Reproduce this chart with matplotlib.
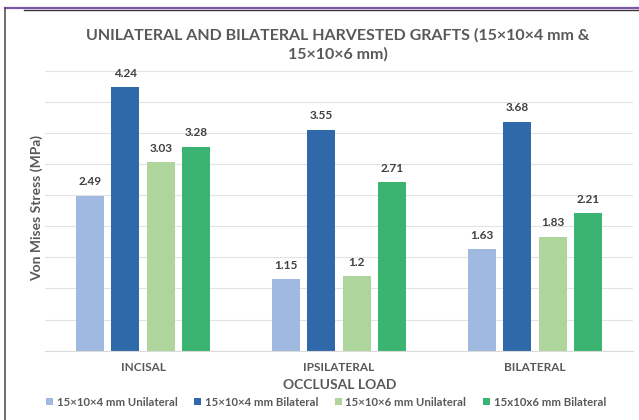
import numpy as np
import matplotlib.pyplot as plt
from matplotlib.lines import Line2D

plt.rcParams['font.family'] = ['Lato', 'DejaVu Sans']

loads = ['INCISAL', 'IPSILATERAL', 'BILATERAL']
series = ['15×10×4 mm Unilateral', '15×10×4 mm Bilateral',
          '15×10×6 mm Unilateral', '15x10x6 mm Bilateral']
uni_4 = [2.49, 1.15, 1.63]
bi_4 = [4.24, 3.55, 3.68]
uni_6 = [3.03, 1.2, 1.83]
bi_6 = [3.28, 2.71, 2.21]
colors = ['#A0B9E0', '#2F69AA', '#AED69C', '#3BB471']

fig = plt.figure(figsize=(6.39, 4.20), dpi=100)
ax = fig.add_axes([45/639, 1-350.7/420, 588/639, 280/420])

x = np.arange(len(loads))
w = 0.143
step = 0.181
for i, (vals, c, lab) in enumerate(zip([uni_4, bi_4, uni_6, bi_6], colors, series)):
    pos = x + (i - 1.5) * step
    bars = ax.bar(pos, vals, width=w, color=c, label=lab, zorder=2)
    ax.bar_label(bars, labels=[f'{v:g}' for v in vals], padding=6,
                 fontsize=8.5, fontweight='bold', color='#404040')

ax.set_xlim(-0.5, 2.5)
ax.set_ylim(0, 4.5)
ax.set_yticks(np.arange(0, 4.51, 0.5))
ax.yaxis.grid(True, color='#E3E3E3', linewidth=0.8, zorder=0)
ax.tick_params(axis='y', length=0, labelleft=False)
ax.tick_params(axis='x', length=0, pad=8)
ax.set_xticks(x)
ax.set_xticklabels(loads, fontsize=8.5, fontweight='bold', color='#595959')
for s in ['top', 'right', 'left']:
    ax.spines[s].set_visible(False)
ax.spines['bottom'].set_color('#D9D9D9')

fig.text(37/639, 1-208/420, 'Von Mises Stress (MPa)', rotation=90,
         ha='center', va='center', fontsize=10, fontweight='bold', color='#595959')
fig.text(340/639, 1-385/420, 'OCCLUSAL LOAD', ha='center', va='center',
         fontsize=10, fontweight='bold', color='#595959')
fig.text(338/639, 1-45/420,
         'UNILATERAL AND BILATERAL HARVESTED GRAFTS (15×10×4 mm &\n15×10×6 mm)',
         ha='center', va='center', fontsize=11.5, color='#595959',
         fontweight='bold', linespacing=1.45)

fig.legend(loc='center', bbox_to_anchor=(326/639, 1-402/420), ncol=4,
           frameon=False, handlelength=0.6, handleheight=0.6,
           handletextpad=0.3, columnspacing=1.5,
           prop={'size': 8.2, 'weight': 'bold'}, labelcolor='#595959')

# frame edges along the top and left
fig.add_artist(Line2D([5/639, 1], [1-8/420, 1-8/420], color='#7B57A8', lw=1.6))
fig.add_artist(Line2D([24/639, 1], [1-9.5/420, 1-9.5/420], color='#3A2F40', lw=1.0))
fig.add_artist(Line2D([5/639, 5/639], [0, 1-8/420], color='#555555', lw=1.2))

fig.savefig('out.png', dpi=100)
